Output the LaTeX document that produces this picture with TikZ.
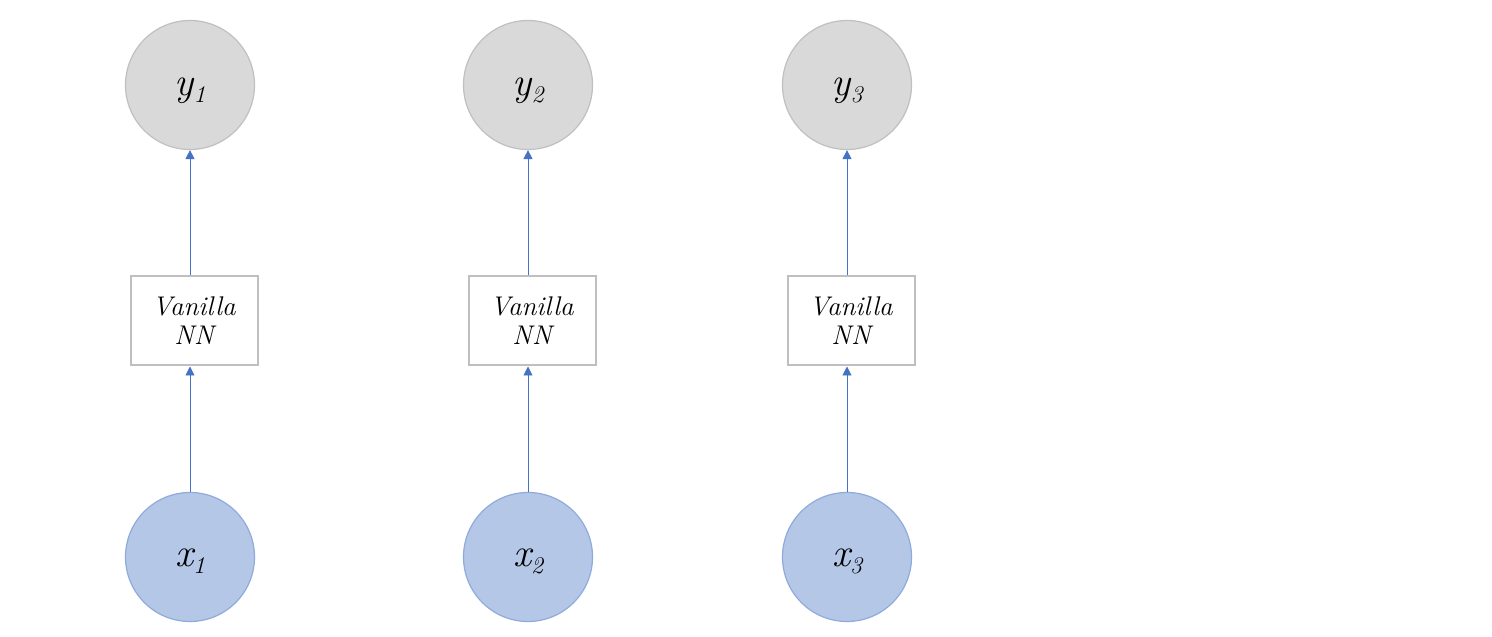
\documentclass[tikz,border=0pt]{standalone}
\usepackage{fontspec}
\usetikzlibrary{arrows.meta}
\definecolor{ygray}{HTML}{D9D9D9}
\definecolor{ygrayb}{HTML}{C0C0C0}
\definecolor{xblue}{HTML}{B4C7E7}
\definecolor{xblueb}{HTML}{8FAADC}
\definecolor{arr}{HTML}{4472C4}
\definecolor{boxb}{HTML}{BFBFBF}
\newcommand{\varsub}[2]{{\itshape #1}\raisebox{-7pt}{\fontsize{24}{26}\selectfont\itshape #2}}
\begin{document}
\begin{tikzpicture}[x=1pt,y=1pt,
  ynode/.style={circle,draw=ygrayb,fill=ygray,line width=1.2pt,minimum size=129pt,inner sep=0pt},
  xnode/.style={circle,draw=xblueb,fill=xblue,line width=1.2pt,minimum size=129pt,inner sep=0pt},
  lbl/.style={inner sep=0pt,font=\fontsize{40}{44}\selectfont},
  nnbox/.style={rectangle,draw=boxb,fill=white,line width=2pt,minimum width=127pt,minimum height=89pt,inner sep=0pt,align=center,font=\fontsize{27}{29}\selectfont\itshape},
  conn/.style={draw=arr,line width=0.9pt,-{Triangle[length=9pt,width=9pt]}}
]
\useasboundingbox (0,0) rectangle (1492,637);
\fill[white] (0,0) rectangle (1492,637);
\foreach \i/\cx in {1/190,2/528,3/847}{
  \node[ynode] (y\i) at (\cx,552) {};
  \node[lbl] (ly\i) at ([yshift=-6pt]y\i.center) {\varsub{y}{\i}};
  \node[nnbox] (n\i) at (\cx+4,316) {Vanilla\\NN};
  \node[xnode] (x\i) at (\cx,80) {};
  \node[lbl] (lx\i) at ([yshift=-4pt]x\i.center) {\varsub{x}{\i}};
  \draw[conn] (x\i.north) -- (n\i.south -| x\i.north);
  \draw[conn] (n\i.north -| y\i.south) -- (y\i.south);
}
\end{tikzpicture}
\end{document}
